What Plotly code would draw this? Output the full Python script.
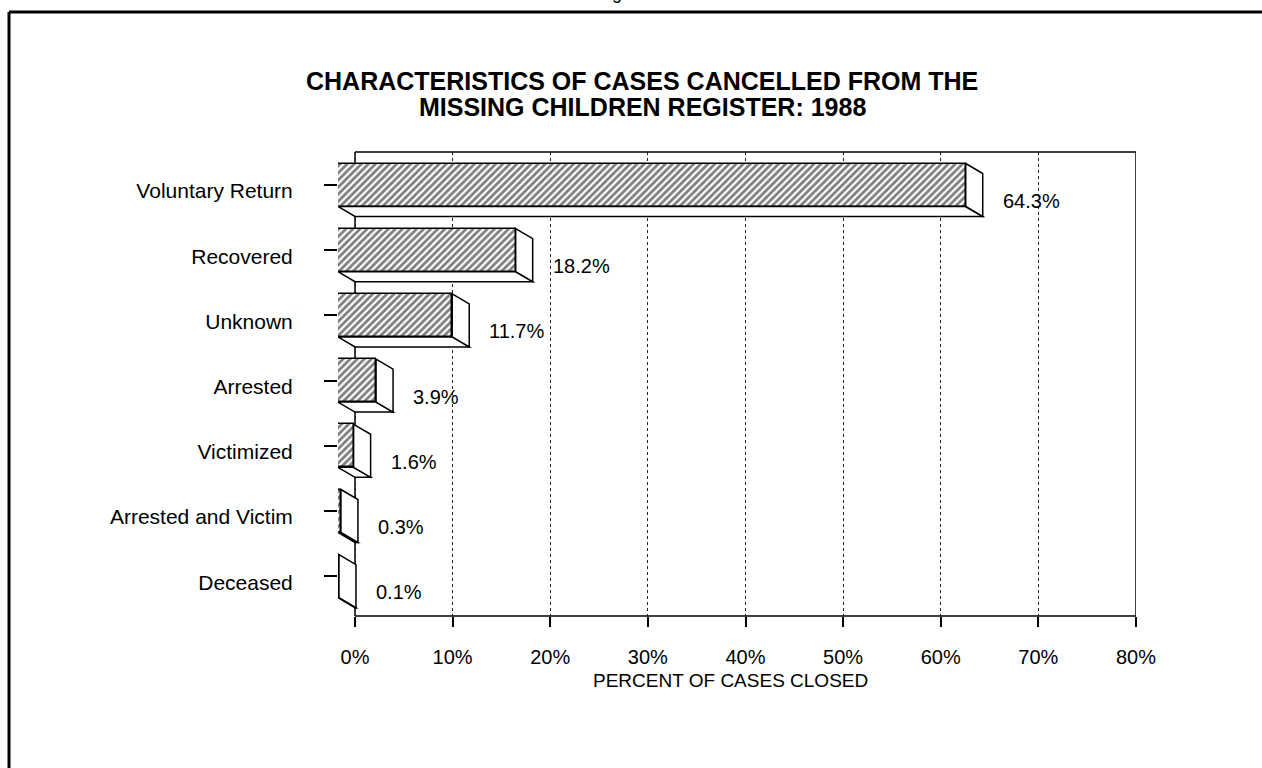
import plotly.graph_objects as go

# ---- data ----
categories = ["Voluntary Return", "Recovered", "Unknown", "Arrested",
              "Victimized", "Arrested and Victim", "Deceased"]
percent_values = [64.3, 18.2, 11.7, 3.9, 1.6, 0.3, 0.1]
x_tick_values = [0, 10, 20, 30, 40, 50, 60, 70, 80]
x_tick_labels = ["0%", "10%", "20%", "30%", "40%", "50%", "60%", "70%", "80%"]

title_line1 = "CHARACTERISTICS OF CASES CANCELLED FROM THE"
title_line2 = "MISSING CHILDREN REGISTER: 1988"
x_title_text = "PERCENT OF CASES CLOSED"

# ---- geometry / style ----
W, H = 1262, 768
PL, PR, PT, PB = 338, 1136, 152, 616          # plot area in pixels
X0_PX = 355                                   # pixel of 0% on the back wall
px_per_unit = (PR - X0_PX) / 80.0
DX = (X0_PX - PL) / px_per_unit               # depth offset in x units
ROW_PX = 65.2
FIRST_BACK_CENTER_PX = 195
Y_TOP = (PT - FIRST_BACK_CENTER_PX) / ROW_PX
Y_BOT = (PB - FIRST_BACK_CENTER_PX) / ROW_PX
DY = 10 / ROW_PX                              # depth offset in category units
BAR_H = 43 / ROW_PX

FONT = "Liberation Sans, Arial, Helvetica, sans-serif"
pos = list(range(len(categories)))
front = [p - DY for p in pos]


def paper_x(px):
    return (px - PL) / (PR - PL)


def paper_y(py):
    return (PB - py) / (PB - PT)


fig = go.Figure()
fig.add_trace(go.Bar(
    orientation="h",
    y=front,
    x=percent_values,
    base=[-DX] * len(percent_values),
    width=BAR_H,
    marker=dict(color="white",
                line=dict(color="black", width=1.5),
                pattern=dict(shape="/", fgcolor="black", bgcolor="white",
                             size=5, solidity=0.55)),
    hoverinfo="skip",
    showlegend=False,
))

shapes = []
# back wall frame
for x0, x1, y0, y1 in [(0, 0, 0, 1), (0, 80, 1, 1), (80, 80, 0, 1), (0, 80, 0, 0)]:
    shapes.append(dict(type="line", xref="x", yref="paper", x0=x0, x1=x1, y0=y0, y1=y1,
                       line=dict(color="black", width=1.5), layer="between"))

# 3-D side and bottom faces, computed from the values
for p, v in zip(pos, percent_values):
    ft, fb = p - DY - BAR_H / 2, p - DY + BAR_H / 2
    bt, bb = p - BAR_H / 2, p + BAR_H / 2
    side = f"M {v-DX},{ft} L {v},{bt} L {v},{bb} L {v-DX},{fb} Z"
    bottom = f"M {-DX},{fb} L {v-DX},{fb} L {v},{bb} L 0,{bb} Z"
    for path in (bottom, side):
        shapes.append(dict(type="path", xref="x", yref="y", path=path,
                           fillcolor="white", line=dict(color="black", width=1.5),
                           layer="above"))

# outer page frame
shapes.append(dict(type="line", xref="paper", yref="paper",
                   x0=paper_x(9), x1=paper_x(1262), y0=paper_y(12), y1=paper_y(12),
                   line=dict(color="black", width=3)))
shapes.append(dict(type="line", xref="paper", yref="paper",
                   x0=paper_x(9), x1=paper_x(9), y0=paper_y(12), y1=paper_y(768),
                   line=dict(color="black", width=3)))

annotations = []
for p, v in zip(pos, percent_values):
    annotations.append(dict(x=v, y=p, xref="x", yref="y", text=f"{v}%",
                            showarrow=False, xanchor="left", yanchor="middle",
                            xshift=18, yshift=-6,
                            font=dict(family=FONT, size=20, color="black")))

for txt, ypx in [(title_line1, 81), (title_line2, 107)]:
    annotations.append(dict(x=paper_x(642), y=paper_y(ypx), xref="paper", yref="paper",
                            text=f"<b>{txt}</b>", showarrow=False,
                            xanchor="center", yanchor="middle",
                            font=dict(family=FONT, size=25, color="black")))
annotations.append(dict(x=paper_x(730), y=paper_y(680), xref="paper", yref="paper",
                        text=x_title_text, showarrow=False,
                        xanchor="center", yanchor="middle",
                        font=dict(family=FONT, size=19, color="black")))
annotations.append(dict(x=paper_x(630), y=paper_y(5), xref="paper", yref="paper",
                        text="Figure 3", showarrow=False,
                        xanchor="center", yanchor="bottom",
                        font=dict(family=FONT, size=18, color="black")))

fig.update_layout(
    width=W, height=H,
    margin=dict(l=PL, r=W - PR, t=PT, b=H - PB, pad=0),
    paper_bgcolor="white", plot_bgcolor="white",
    shapes=shapes, annotations=annotations,
    bargap=0,
    xaxis=dict(range=[-DX, 80], tickvals=x_tick_values, ticktext=x_tick_labels,
               showgrid=True, gridcolor="#222", griddash="dot", gridwidth=1,
               zeroline=False, showline=False,
               ticks="outside", ticklen=10, tickwidth=1.5, tickcolor="black",
               ticklabelstandoff=13,
               tickfont=dict(family=FONT, size=20, color="black")),
    yaxis=dict(range=[Y_BOT, Y_TOP], tickvals=front, ticktext=categories,
               showgrid=False, zeroline=False, showline=False,
               ticks="outside", ticklen=13, tickwidth=1.5, tickcolor="black",
               ticklabelstandoff=27, ticklabelshift=-6,
               tickfont=dict(family=FONT, size=21, color="black")),
)

fig.write_html("out.html",
               config={"displayModeBar": False},
               post_script="document.body.style.margin='0';"
                           "document.body.style.overflow='hidden';")
